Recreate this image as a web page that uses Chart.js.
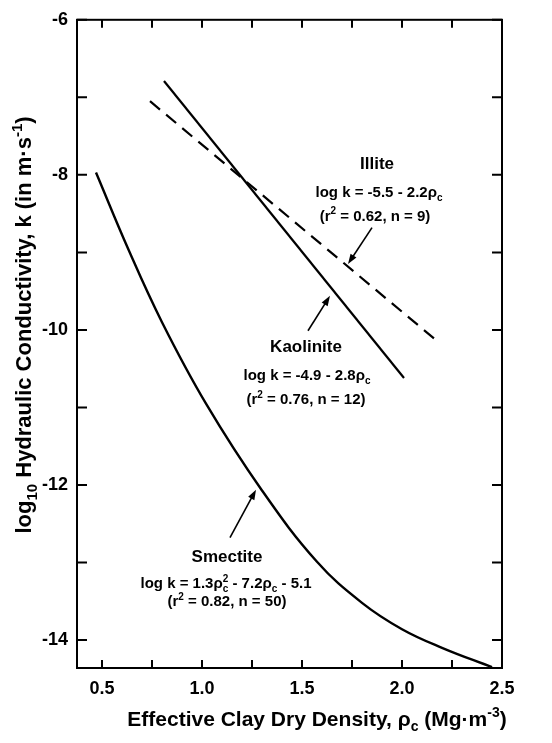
<!DOCTYPE html>
<html>
<head>
<meta charset="utf-8">
<title>Hydraulic conductivity vs clay dry density</title>
<script src="https://cdn.jsdelivr.net/npm/chart.js@4.4.0/dist/chart.umd.min.js"></script>
<style>
  html, body { margin: 0; padding: 0; background: #fff; }
</style>
</head>
<body>
<canvas id="grafico" width="552" height="743"></canvas>
<script>
// values (rho_c in Mg/m3, log10 k in m/s)
const smectiteRho  = [0.47, 0.63, 0.80, 1.02, 1.30, 1.575, 1.80, 2.00, 2.20, 2.45];
const smectiteLogK = [-7.97, -8.95, -9.90, -10.95, -12.07, -12.99, -13.52, -13.86, -14.1, -14.35];
const kaoliniteRho  = [0.81, 2.01];
const kaoliniteLogK = [-6.79, -10.62];
const illiteRho  = [0.74, 2.16];
const illiteLogK = [-7.05, -10.11];
const xLabels = [0.5, 1.0, 1.5, 2.0, 2.5];
const yLabels = [-6, -8, -10, -12, -14];

const familia = '"Liberation Sans", Arial, Helvetica, sans-serif';

function pares(xs, ys) {
    return xs.map((x, i) => ({ x: x, y: ys[i] }));
}

// text with sub / superscripts, centred on x, y = vertical middle
function textoRico(ctx, partes, x, y, size) {
    const base = 'bold ' + size + 'px ' + familia;
    const peq = 'bold ' + Math.round(size * 0.68) + 'px ' + familia;
    let ancho = 0;
    const anchos = partes.map(p => {
        ctx.font = p[1] === 'n' ? base : peq;
        let w = ctx.measureText(p[0]).width;
        if (p[1] === 'subsup') w = Math.max(w, ctx.measureText(p[2]).width);
        ancho += w;
        return w;
    });
    let cx = x - ancho / 2;
    const linea = y + size * 0.36;
    ctx.textAlign = 'left';
    ctx.textBaseline = 'alphabetic';
    partes.forEach((p, i) => {
        ctx.font = p[1] === 'n' ? base : peq;
        if (p[1] === 'n') ctx.fillText(p[0], cx, linea);
        if (p[1] === 'sub' || p[1] === 'subsup') ctx.fillText(p[0], cx, linea + size * 0.28);
        if (p[1] === 'sup') ctx.fillText(p[0], cx, linea - size * 0.42);
        if (p[1] === 'subsup') ctx.fillText(p[2], cx, linea - size * 0.42);
        cx += anchos[i];
    });
}

function flecha(ctx, x1, y1, x2, y2) {
    const ang = Math.atan2(y2 - y1, x2 - x1);
    ctx.beginPath();
    ctx.moveTo(x1, y1);
    ctx.lineTo(x2 - 6 * Math.cos(ang), y2 - 6 * Math.sin(ang));
    ctx.lineWidth = 1.6;
    ctx.stroke();
    ctx.beginPath();
    ctx.moveTo(x2, y2);
    ctx.lineTo(x2 - 10 * Math.cos(ang) + 3.5 * Math.sin(ang), y2 - 10 * Math.sin(ang) - 3.5 * Math.cos(ang));
    ctx.lineTo(x2 - 10 * Math.cos(ang) - 3.5 * Math.sin(ang), y2 - 10 * Math.sin(ang) + 3.5 * Math.cos(ang));
    ctx.closePath();
    ctx.fill();
}

// labels and arrows, placed in data units
const notas = [
    { x: 1.875, y: -7.84, size: 17, partes: [['Illite', 'n']] },
    { x: 1.885, y: -8.215, size: 15, partes: [['log k = -5.5 - 2.2ρ', 'n'], ['c', 'sub']] },
    { x: 1.865, y: -8.52, size: 15, partes: [['(r', 'n'], ['2', 'sup'], [' = 0.62, n = 9)', 'n']] },
    { x: 1.52, y: -10.2, size: 17, partes: [['Kaolinite', 'n']] },
    { x: 1.525, y: -10.57, size: 15, partes: [['log k = -4.9 - 2.8ρ', 'n'], ['c', 'sub']] },
    { x: 1.52, y: -10.89, size: 15, partes: [['(r', 'n'], ['2', 'sup'], [' = 0.76, n = 12)', 'n']] },
    { x: 1.125, y: -12.91, size: 17, partes: [['Smectite', 'n']] },
    { x: 1.12, y: -13.26, size: 15, partes: [['log k = 1.3ρ', 'n'], ['c', 'subsup', '2'], [' - 7.2ρ', 'n'], ['c', 'sub'], [' - 5.1', 'n']] },
    { x: 1.125, y: -13.49, size: 15, partes: [['(r', 'n'], ['2', 'sup'], [' = 0.82, n = 50)', 'n']] }
];
const flechas = [
    [1.85, -8.68, 1.73, -9.15],
    [1.53, -10.01, 1.64, -9.56],
    [1.14, -12.68, 1.27, -12.06]
];

const marco = {
    id: 'marco',
    afterDraw(chart) {
        const { ctx, chartArea: a, scales: { x, y } } = chart;
        ctx.save();
        ctx.strokeStyle = '#000';
        ctx.fillStyle = '#000';
        ctx.lineWidth = 2;
        ctx.strokeRect(a.left, a.top, a.right - a.left, a.bottom - a.top);
        ctx.beginPath();
        x.ticks.forEach(t => {
            const px = x.getPixelForValue(t.value);
            ctx.moveTo(px, a.bottom); ctx.lineTo(px, a.bottom - 8);
            ctx.moveTo(px, a.top); ctx.lineTo(px, a.top + 8);
        });
        y.ticks.forEach(t => {
            const py = y.getPixelForValue(t.value);
            ctx.moveTo(a.left, py); ctx.lineTo(a.left + 10, py);
            ctx.moveTo(a.right, py); ctx.lineTo(a.right - 10, py);
        });
        ctx.stroke();

        notas.forEach(n => {
            textoRico(ctx, n.partes, x.getPixelForValue(n.x), y.getPixelForValue(n.y), n.size);
        });
        flechas.forEach(f => {
            flecha(ctx, x.getPixelForValue(f[0]), y.getPixelForValue(f[1]),
                x.getPixelForValue(f[2]), y.getPixelForValue(f[3]));
        });

        // axis titles
        textoRico(ctx, [['Effective Clay Dry Density, ρ', 'n'], ['c', 'sub'], [' (Mg·m', 'n'], ['-3', 'sup'], [')', 'n']],
            317, 718, 21);
        ctx.translate(23, 325);
        ctx.rotate(-Math.PI / 2);
        textoRico(ctx, [['log', 'n'], ['10', 'sub'], [' Hydraulic Conductivity, k (in m·s', 'n'], ['-1', 'sup'], [')', 'n']],
            0, 0, 22);
        ctx.restore();
    }
};

const fuenteTicks = { family: familia, size: 18, weight: 'bold' };

new Chart(document.getElementById('grafico'), {
    type: 'scatter',
    data: {
        datasets: [
            {
                label: 'Smectite',
                data: pares(smectiteRho, smectiteLogK),
                showLine: true,
                borderColor: '#000',
                borderWidth: 2.4,
                pointRadius: 0,
                tension: 0.4
            },
            {
                label: 'Kaolinite',
                data: pares(kaoliniteRho, kaoliniteLogK),
                showLine: true,
                borderColor: '#000',
                borderWidth: 2.2,
                pointRadius: 0
            },
            {
                label: 'Illite',
                data: pares(illiteRho, illiteLogK),
                showLine: true,
                borderColor: '#000',
                borderWidth: 2.2,
                borderDash: [13, 8],
                pointRadius: 0
            }
        ]
    },
    options: {
        responsive: false,
        animation: false,
        layout: { padding: { top: 15, right: 50, left: 0, bottom: 0 } },
        plugins: {
            legend: { display: false },
            tooltip: { enabled: false }
        },
        scales: {
            x: {
                type: 'linear',
                min: 0.375,
                max: 2.5,
                afterFit: s => { s.height = 75; },
                grid: { display: false, drawTicks: false },
                border: { display: false },
                ticks: {
                    stepSize: 0.25,
                    includeBounds: false,
                    autoSkip: false,
                    maxRotation: 0,
                    padding: 10,
                    color: '#000',
                    font: fuenteTicks,
                    callback: v => xLabels.some(t => Math.abs(t - v) < 1e-6) ? v.toFixed(1) : ''
                }
            },
            y: {
                type: 'linear',
                min: -14.36,
                max: -6,
                afterFit: s => { s.width = 77; },
                grid: { display: false, drawTicks: false },
                border: { display: false },
                ticks: {
                    stepSize: 1,
                    includeBounds: false,
                    autoSkip: false,
                    padding: 9,
                    color: '#000',
                    font: fuenteTicks,
                    callback: v => yLabels.some(t => Math.abs(t - v) < 1e-6) ? String(v) : ''
                }
            }
        }
    },
    plugins: [marco]
});
</script>
</body>
</html>
